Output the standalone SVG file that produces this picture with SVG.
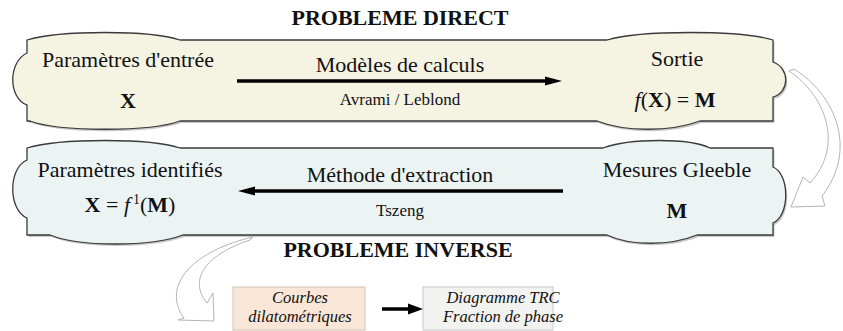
<svg xmlns="http://www.w3.org/2000/svg" width="843" height="331" viewBox="0 0 843 331">
  <style>
    .band { stroke: #3a3a3a; stroke-width: 1.3; }
    .shadow { fill: #9a9a9a; opacity: 0.55; }
    .t { font-family: "Liberation Serif", "Times New Roman", serif; fill: #111; }
    .lbl { font-size: 22px; }
    .sub { font-size: 17px; }
    .title { font-size: 22px; font-weight: bold; }
    .b { font-weight: bold; }
    .i { font-style: italic; }
    .box { font-size: 16.5px; font-style: italic; }
    .curve { fill: #ffffff; stroke: #b4b4b4; stroke-width: 1; }
    .conn { stroke: #000; stroke-width: 3.5; fill: none; }
  </style>
  <defs>
    <path id="bandTop" d="M27,40 C60,30 150,30 180,40 L607,40 C640,30 740,30 773,40 L773,62 C790,68 790,92 773,97 L773,121 L700,121 C670,132 625,132 597,121 L180,121 C150,132 60,132 30,121 L27,121 L27,105 C8,98 8,62 27,53 Z"/>
    <path id="bandBottom" d="M27,148 C60,138 150,138 180,148 L603,148 C630,138 690,138 710,148 L773,148 L773,167 C790,174 790,216 773,223 L773,235 L697,235 C670,246 630,246 607,235 L183,235 C150,247 80,247 50,235 L27,235 L27,218 C8,210 8,168 27,160 Z"/>
  </defs>

  <!-- headings -->
  <text class="t title" x="400" y="25" text-anchor="middle">PROBLEME DIRECT</text>
  <text class="t title" x="398" y="257" text-anchor="middle">PROBLEME INVERSE</text>

  <!-- direct problem band -->
  <g id="direct">
    <use href="#bandTop" class="shadow" transform="translate(1.5,2)"/>
    <use href="#bandTop" class="band" fill="#f5f3e2"/>
  </g>
  <g id="entree">
    <text class="t lbl" x="128" y="67" text-anchor="middle">Paramètres d'entrée</text>
    <text class="t lbl b" x="128" y="108" text-anchor="middle">X</text>
  </g>
  <g id="modeles">
    <text class="t lbl" x="400" y="72" text-anchor="middle">Modèles de calculs</text>
    <text class="t sub" x="400" y="105" text-anchor="middle">Avrami / Leblond</text>
  </g>
  <g id="sortie">
    <text class="t lbl" x="677" y="66" text-anchor="middle">Sortie</text>
    <text class="t lbl" x="675" y="107" text-anchor="middle"><tspan class="i">f</tspan>(<tspan class="b">X</tspan>) = <tspan class="b">M</tspan></text>
  </g>

  <!-- inverse problem band -->
  <g id="inverse">
    <use href="#bandBottom" class="shadow" transform="translate(1.5,2)"/>
    <use href="#bandBottom" class="band" fill="#ecf4f3"/>
  </g>
  <g id="identifies">
    <text class="t lbl" x="130" y="177" text-anchor="middle">Paramètres identifiés</text>
    <text class="t lbl" x="130" y="212" text-anchor="middle"><tspan class="b">X</tspan> = <tspan class="i">f</tspan><tspan font-size="14" dx="3" dy="-8">1</tspan><tspan dy="8">(</tspan><tspan class="b">M</tspan>)</text>
  </g>
  <g id="extraction">
    <text class="t lbl" x="400" y="182" text-anchor="middle">Méthode d'extraction</text>
    <text class="t sub" x="400" y="216" text-anchor="middle">Tszeng</text>
  </g>
  <g id="gleeble">
    <text class="t lbl" x="677" y="177" text-anchor="middle">Mesures Gleeble</text>
    <text class="t lbl b" x="677" y="218" text-anchor="middle">M</text>
  </g>

  <!-- result boxes -->
  <g id="courbes">
    <rect x="233" y="287" width="132" height="43" fill="#f9e6d7" stroke="#d4c2b2" stroke-width="1"/>
    <text class="t box" x="300" y="303" text-anchor="middle">Courbes</text>
    <text class="t box" x="300" y="322" text-anchor="middle">dilatométriques</text>
  </g>
  <g id="diagramme">
    <rect x="423" y="287" width="130" height="43" fill="#f2f2f0" stroke="#c8c8c8" stroke-width="1"/>
    <text class="t box" x="503" y="303" text-anchor="middle">Diagramme TRC</text>
    <text class="t box" x="503" y="322" text-anchor="middle">Fraction de phase</text>
  </g>

  <!-- connectors -->
  <g id="connectors">
    <line class="conn" x1="237" y1="81" x2="548" y2="81"/>
    <polygon points="562,81 545,76.5 545,85.5" fill="#000"/>
    <line class="conn" x1="563" y1="191" x2="252" y2="191"/>
    <polygon points="238,191 255,186.5 255,195.5" fill="#000"/>
    <line class="conn" x1="382" y1="309" x2="410" y2="309" stroke-width="4"/>
    <polygon points="423,309 408,303.5 408,314.5" fill="#000"/>
    <path class="curve" d="M789,71 C825,95 845,145 810,183 L803,177 L791,207 L825,206 L822,196 C858,150 836,95 794,69 Z"/>
    <path class="curve" d="M253,237 C195,250 160,285 184,318 L178,320 L214,321 L213,293 L207,303 C188,280 205,255 250,240 Z"/>
  </g>
</svg>
